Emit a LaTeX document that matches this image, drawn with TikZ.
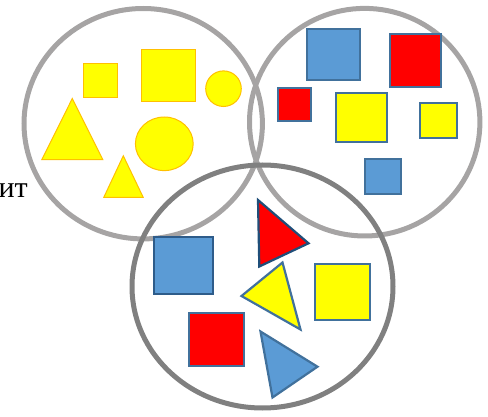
\documentclass[tikz,border=0pt]{standalone}
\usepackage{fontspec}
\newfontfamily\rufont{Liberation Serif}
\definecolor{ringA}{HTML}{A6A4A4}
\definecolor{ringB}{HTML}{808080}
\definecolor{yfill}{HTML}{FFFF00}
\definecolor{yline}{HTML}{FFC000}
\definecolor{bfill}{HTML}{5B9BD5}
\definecolor{bline}{HTML}{41719C}
\definecolor{bdark}{HTML}{2E5C8A}
\definecolor{navy}{HTML}{1F4E79}
\definecolor{rfill}{HTML}{FF0000}
\tikzset{
  ringlight/.style={draw=ringA, line width=5pt},
  ringdark/.style={draw=ringB, line width=5pt},
  yel/.style={draw=yline, fill=yfill, line width=1pt},
  bluesq/.style={draw=bline, fill=bfill, line width=2.2pt},
  bluesqd/.style={draw=bdark, fill=bfill, line width=2.2pt},
  redsq/.style={draw=bline, fill=rfill, line width=2.2pt},
  yelsq/.style={draw=bline, fill=yfill, line width=2.2pt},
  redtri/.style={draw=navy, fill=rfill, line width=2.2pt},
  yeltri/.style={draw=bline, fill=yfill, line width=2.2pt},
  bluetri/.style={draw=bline, fill=bfill, line width=2.2pt},
  label/.style={font=\rufont\fontsize{30}{32}\selectfont, inner sep=0pt}
}
\begin{document}
\begin{tikzpicture}[x=1pt,y=-1pt]
\useasboundingbox (0,0) rectangle (488,417);
% text
\node[label, anchor=base east] (txt) at (28,198) {ит};
% rings
\draw[ringlight] (143.2,123.7) ellipse [x radius=119.2pt, y radius=115.2pt];
\draw[ringlight] (364.7,122.2) ellipse [x radius=115.2pt, y radius=113.8pt];
\draw[ringdark] (262.5,286.5) ellipse [x radius=130.5pt, y radius=121.5pt];
% left circle shapes
\draw[yel] (83.5,63.5) rectangle (117,97.5);
\draw[yel] (141.5,49.5) rectangle (195.5,101.5);
\draw[yel] (223.5,88.7) circle [radius=17.8pt];
\draw[yel] (72.3,98.5) -- (102.8,159.7) -- (41.8,159.7) -- cycle;
\draw[yel] (164.3,143.8) ellipse [x radius=28.9pt, y radius=26.8pt];
\draw[yel] (123.3,155.8) -- (143.2,197.3) -- (103.8,197.3) -- cycle;
% right circle shapes
\draw[bluesq] (307,29.3) rectangle (360,79.7);
\draw[redsq] (390,34.3) rectangle (441.3,87.3);
\draw[redsq] (277.8,88.3) rectangle (310.7,121.3);
\draw[yelsq] (336,93.3) rectangle (386.7,142.3);
\draw[yelsq] (420,103.3) rectangle (457.3,138.3);
\draw[bluesq] (365.3,159) rectangle (401,194.3);
% bottom circle shapes
\draw[bluesqd] (153.8,236.8) rectangle (213.2,293.9);
\draw[redsq] (188.8,313.2) rectangle (243.9,365.8);
\draw[yelsq] (314.8,264.4) rectangle (370.3,319.6);
\draw[redtri] (258,200) -- (308.5,243.3) -- (259.3,266.5) -- cycle;
\draw[yeltri] (282.5,262.5) -- (241.5,296) -- (300.5,329.5) -- cycle;
\draw[bluetri] (260.5,331.5) -- (317.5,366.7) -- (272.5,397.5) -- cycle;
\end{tikzpicture}
\end{document}
